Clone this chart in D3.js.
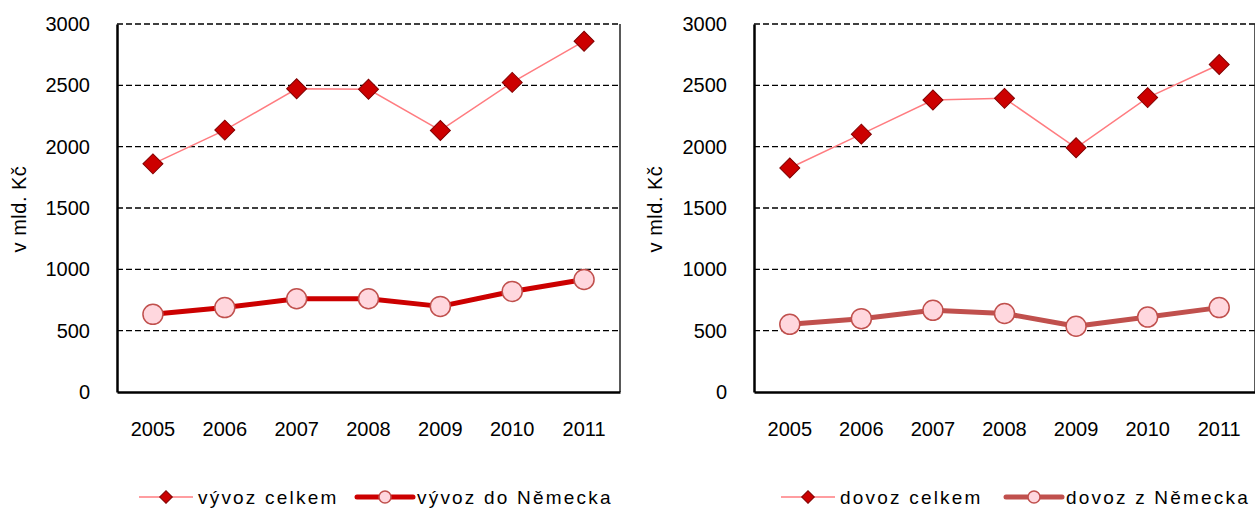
<!DOCTYPE html>
<html>
<head>
<meta charset="utf-8">
<script src="https://cdn.jsdelivr.net/npm/d3@7"></script>
<style>
  body { margin: 0; background: #fff; }
  svg { display: block; font-family: 'Liberation Sans', Arial, sans-serif; }
</style>
</head>
<body>
<svg width="1255" height="511"></svg>
<script>
var years = ['2005', '2006', '2007', '2008', '2009', '2010', '2011'];
var yTicks = [0, 500, 1000, 1500, 2000, 2500, 3000];

var vyvozCelkem = [1860, 2135, 2472, 2468, 2132, 2524, 2860];
var vyvozNemecko = [633, 688, 760, 760, 698, 820, 917];
var dovozCelkem = [1826, 2102, 2380, 2394, 1991, 2400, 2670];
var dovozNemecko = [552, 598, 666, 640, 536, 611, 688];

var svg = d3.select('svg');
var font = "'Liberation Sans', Arial, sans-serif";

function drawChart(opt) {
    var g = svg.append('g');

    var x = d3.scaleBand()
        .domain(years)
        .range([opt.left, opt.right]);

    var y = d3.scaleLinear()
        .domain([0, 3000])
        .range([392, 24]);

    // gridlines
    g.selectAll('.grid')
        .data(yTicks.filter(function(d){ return d > 0; }))
        .enter()
        .append('line')
        .attr('x1', opt.left)
        .attr('x2', opt.right)
        .attr('y1', function(d){ return y(d); })
        .attr('y2', function(d){ return y(d); })
        .attr('stroke', '#000')
        .attr('stroke-width', 1.3)
        .attr('stroke-dasharray', '6,3');

    // right border
    g.append('line')
        .attr('x1', opt.right).attr('x2', opt.right)
        .attr('y1', y(3000)).attr('y2', y(0))
        .attr('stroke', '#222')
        .attr('stroke-width', 1.5);

    // axes
    var yAxis = g.append('g')
        .attr('transform', 'translate(' + opt.left + ',0)')
        .call(d3.axisLeft(y).tickValues(yTicks).tickFormat(d3.format('d'))
            .tickSize(0).tickPadding(27));
    yAxis.select('.domain').attr('stroke', '#000').attr('stroke-width', 2.5);
    yAxis.selectAll('text').attr('font-size', 20).attr('fill', '#000')
        .attr('font-family', font);

    var xAxis = g.append('g')
        .attr('transform', 'translate(0,392)')
        .call(d3.axisBottom(x).tickSize(0).tickPadding(30));
    xAxis.select('.domain').attr('stroke', '#000').attr('stroke-width', 2.5);
    xAxis.selectAll('text').attr('font-size', 20).attr('fill', '#000')
        .attr('font-family', font);

    // axis title
    g.append('text')
        .attr('transform', 'translate(' + opt.titleX + ',209) rotate(-90)')
        .attr('text-anchor', 'middle')
        .attr('font-size', 20)
        .attr('letter-spacing', 0.5)
        .text('v mld. Kč');

    var lineFunction = d3.line()
        .x(function(d, i){ return x(years[i]) + x.bandwidth() / 2; })
        .y(function(d){ return y(d); });

    // thick series
    g.append('path')
        .datum(opt.thick)
        .attr('d', lineFunction)
        .attr('fill', 'none')
        .attr('stroke', opt.thickColor)
        .attr('stroke-width', 5)
        .attr('stroke-linejoin', 'round');

    g.selectAll('.circ')
        .data(opt.thick)
        .enter()
        .append('circle')
        .attr('cx', function(d, i){ return x(years[i]) + x.bandwidth() / 2; })
        .attr('cy', function(d){ return y(d); })
        .attr('r', 10)
        .attr('fill', '#FFD7DE')
        .attr('stroke', '#C0504D')
        .attr('stroke-width', 1.5);

    // thin series
    g.append('path')
        .datum(opt.thin)
        .attr('d', lineFunction)
        .attr('fill', 'none')
        .attr('stroke', '#FF7C80')
        .attr('stroke-width', 1.5);

    var diamond = d3.symbol().type(d3.symbolSquare).size(200);
    g.selectAll('.dia')
        .data(opt.thin)
        .enter()
        .append('path')
        .attr('d', diamond)
        .attr('transform', function(d, i){
            return 'translate(' + (x(years[i]) + x.bandwidth() / 2) + ',' + y(d) + ') rotate(45)';
        })
        .attr('fill', '#CC0000')
        .attr('stroke', '#800000')
        .attr('stroke-width', 1);

    // legend
    var ly = 497;
    var lg = g.append('g');
    lg.append('line')
        .attr('x1', opt.legX).attr('x2', opt.legX + 54)
        .attr('y1', ly).attr('y2', ly)
        .attr('stroke', '#FF7C80').attr('stroke-width', 1.5);
    lg.append('path')
        .attr('d', d3.symbol().type(d3.symbolSquare).size(80))
        .attr('transform', 'translate(' + (opt.legX + 27) + ',' + ly + ') rotate(45)')
        .attr('fill', '#CC0000').attr('stroke', '#800000');
    lg.append('text')
        .attr('x', opt.legX + 59).attr('y', ly + 7)
        .attr('font-size', 19)
        .attr('letter-spacing', 2.2)
        .text(opt.thinName);

    var lx2 = opt.legX2;
    lg.append('line')
        .attr('x1', lx2).attr('x2', lx2 + 56)
        .attr('y1', ly).attr('y2', ly)
        .attr('stroke', opt.thickColor).attr('stroke-width', 5)
        .attr('stroke-linecap', 'round');
    lg.append('circle')
        .attr('cx', lx2 + 28).attr('cy', ly).attr('r', 6)
        .attr('fill', '#FFD7DE').attr('stroke', '#C0504D').attr('stroke-width', 1.5);
    lg.append('text')
        .attr('x', lx2 + 60).attr('y', ly + 7)
        .attr('font-size', 19)
        .attr('letter-spacing', 2.2)
        .text(opt.thickName);
}

drawChart({
    left: 117, right: 620, titleX: 26,
    thin: vyvozCelkem, thick: vyvozNemecko,
    thickColor: '#CC0000',
    thinName: 'vývoz celkem', thickName: 'vývoz do Německa',
    legX: 139, legX2: 357
});

drawChart({
    left: 754, right: 1255, titleX: 662,
    thin: dovozCelkem, thick: dovozNemecko,
    thickColor: '#C0504D',
    thinName: 'dovoz celkem', thickName: 'dovoz z Německa',
    legX: 781, legX2: 1006
});
</script>
</body>
</html>
